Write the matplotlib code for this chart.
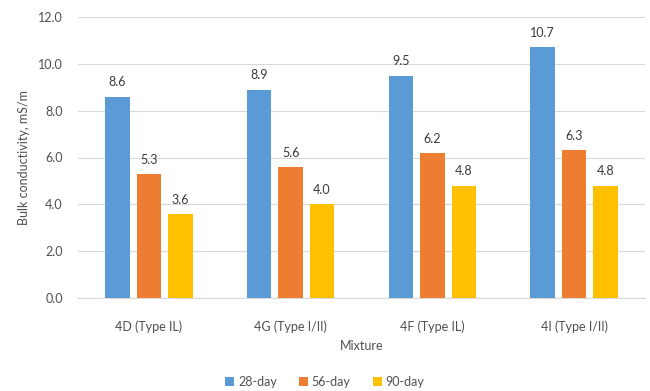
import matplotlib.pyplot as plt
import numpy as np

plt.rcParams['font.family'] = ['Lato', 'DejaVu Sans']

mixtures = ['4D (Type IL)', '4G (Type I/II)', '4F (Type IL)', '4I (Type I/II)']
series = ['28-day', '56-day', '90-day']
day28 = [8.6, 8.9, 9.5, 10.7]
day56 = [5.3, 5.6, 6.2, 6.3]
day90 = [3.6, 4.0, 4.8, 4.8]
colors = ['#5B9BD5', '#ED7D31', '#FFC000']

fig = plt.figure(figsize=(6.5, 3.91), dpi=100)
ax = fig.add_axes([78 / 650, 1 - 298 / 391, 567 / 650, 281 / 391])

x = np.arange(len(mixtures))
step = 0.222
width = 0.172
for i, (vals, name) in enumerate(zip([day28, day56, day90], series)):
    pos = x + (i - 1) * step
    ax.bar(pos, vals, width, color=colors[i], label=name, zorder=3)
    for px, v in zip(pos, vals):
        ax.text(px, v + 0.35, f'{v:.1f}', ha='center', va='bottom',
                fontsize=9, color='#3a3a3a')

ax.set_xlim(-0.5, 3.5)
ax.set_ylim(0, 12)
ax.set_yticks(np.arange(0, 12.1, 2))
ax.set_yticklabels([f'{t:.1f}' for t in np.arange(0, 12.1, 2)])
ax.set_xticks(x)
ax.set_xticklabels(mixtures)
ax.tick_params(axis='both', length=0, labelsize=9, labelcolor='#505050')
ax.tick_params(axis='x', pad=16)
ax.tick_params(axis='y', pad=11)
ax.grid(axis='y', color='#D9D9D9', linewidth=0.8, zorder=0)
for s in ['top', 'right', 'left']:
    ax.spines[s].set_visible(False)
ax.spines['bottom'].set_color('#D9D9D9')

ax.set_xlabel('Mixture', fontsize=9, color='#505050', labelpad=5)
ax.set_ylabel('Bulk conductivity, mS/m', fontsize=9, color='#505050', labelpad=6)

fig.legend(loc='center', bbox_to_anchor=(0.5, 1 - 382 / 391), ncol=3,
           frameon=False, fontsize=9, handlelength=0.7, handleheight=0.7,
           handletextpad=0.3, columnspacing=1.8, labelcolor='#505050')

fig.savefig('out.png', dpi=100, facecolor='white')
